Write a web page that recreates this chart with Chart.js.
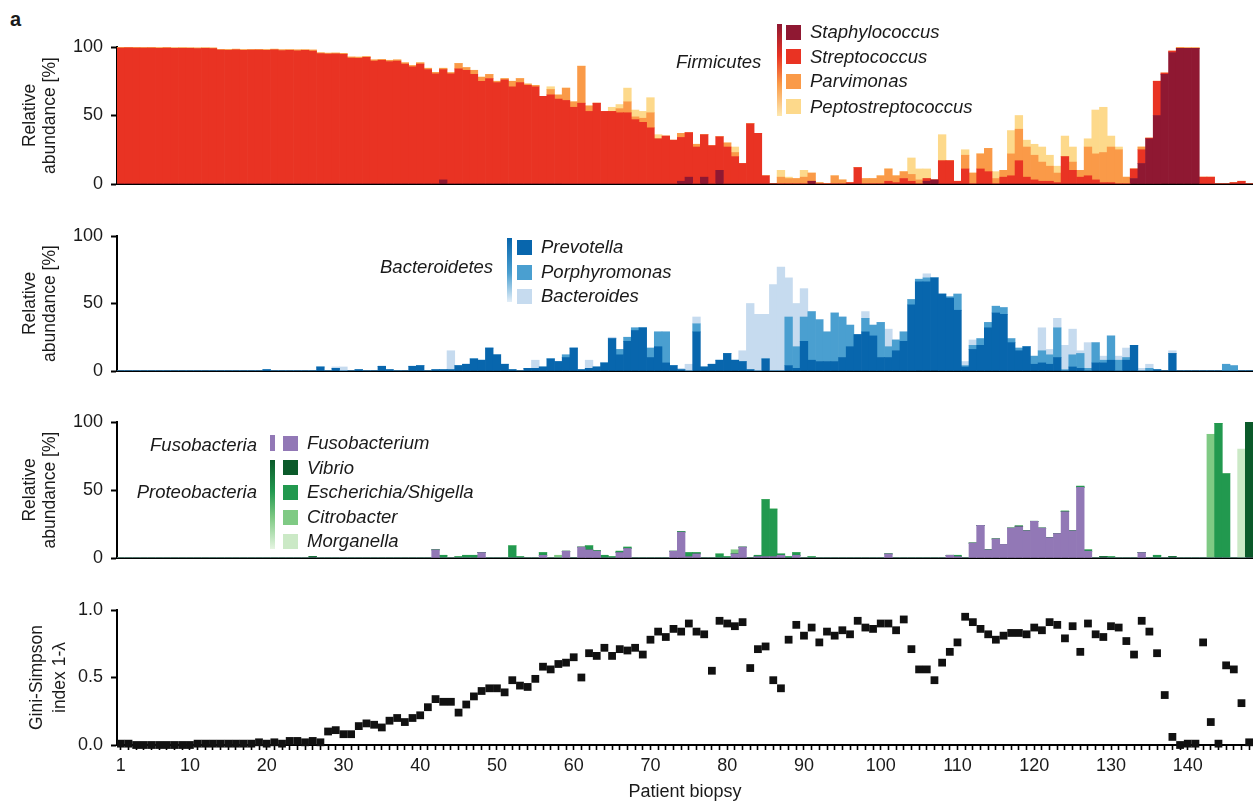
<!DOCTYPE html>
<html><head><meta charset="utf-8">
<script src="https://cdn.jsdelivr.net/npm/chart.js@4.4.1/dist/chart.umd.min.js"></script>
<style>
html,body{margin:0;padding:0;background:#fff;overflow:hidden;width:1253px;height:804px;}
body{position:relative;font-family:'Liberation Sans',Arial,Helvetica,sans-serif;color:#1a1a1a;}
.pan{position:absolute;left:0;width:1253px;}
.pan canvas{display:block;}
.lg{position:absolute;font-style:italic;font-size:18.5px;line-height:18px;white-space:nowrap;z-index:5;}
.sw{position:absolute;width:15px;height:15px;z-index:5;}
.gb{position:absolute;width:5px;z-index:5;}
</style></head><body>
<div style="position:absolute;left:10px;top:8px;font-weight:bold;font-size:20px;">a</div>
<div class="pan" style="top:30px;height:170px"><canvas id="c1"></canvas></div>
<div class="pan" style="top:220px;height:170px"><canvas id="c2"></canvas></div>
<div class="pan" style="top:405px;height:170px"><canvas id="c3"></canvas></div>
<div class="pan" style="top:595px;height:209px"><canvas id="c4"></canvas></div>

<!-- legend panel 1 -->
<div class="lg" style="left:676px;top:53px">Firmicutes</div>
<div class="gb" style="left:777px;top:24px;height:92px;background:linear-gradient(#8f1832,#e93323 35%,#fa9a48 65%,#fde8b0)"></div>
<div class="sw" style="left:786px;top:25px;background:#8f1832"></div>
<div class="sw" style="left:786px;top:49px;background:#e93323"></div>
<div class="sw" style="left:786px;top:74px;background:#fa9a48"></div>
<div class="sw" style="left:786px;top:99px;background:#fdd98b"></div>
<div class="lg" style="left:810px;top:23px">Staphylococcus</div>
<div class="lg" style="left:810px;top:48px">Streptococcus</div>
<div class="lg" style="left:810px;top:72px">Parvimonas</div>
<div class="lg" style="left:810px;top:98px">Peptostreptococcus</div>

<!-- legend panel 2 -->
<div class="lg" style="left:380px;top:258px">Bacteroidetes</div>
<div class="gb" style="left:507px;top:238px;height:64px;background:linear-gradient(#0866ad,#4a9fd0 55%,#e3eef8)"></div>
<div class="sw" style="left:517px;top:240px;background:#0866ad"></div>
<div class="sw" style="left:517px;top:265px;background:#4a9fd0"></div>
<div class="sw" style="left:517px;top:289px;background:#c6dbef"></div>
<div class="lg" style="left:541px;top:238px">Prevotella</div>
<div class="lg" style="left:541px;top:263px">Porphyromonas</div>
<div class="lg" style="left:541px;top:287px">Bacteroides</div>

<!-- legend panel 3 -->
<div class="lg" style="right:996px;top:436px">Fusobacteria</div>
<div class="lg" style="right:996px;top:483px">Proteobacteria</div>
<div class="gb" style="left:270px;top:435px;height:16px;background:#9278b6"></div>
<div class="gb" style="left:270px;top:460px;height:89px;background:linear-gradient(#0b5a2a,#22994f 35%,#7fca84 65%,#e6f5e2)"></div>
<div class="sw" style="left:283px;top:436px;background:#9278b6"></div>
<div class="sw" style="left:283px;top:460px;background:#0b5a2a"></div>
<div class="sw" style="left:283px;top:485px;background:#22994f"></div>
<div class="sw" style="left:283px;top:510px;background:#7fca84"></div>
<div class="sw" style="left:283px;top:534px;background:#cbe9c6"></div>
<div class="lg" style="left:307px;top:434px">Fusobacterium</div>
<div class="lg" style="left:307px;top:459px">Vibrio</div>
<div class="lg" style="left:307px;top:483px">Escherichia/Shigella</div>
<div class="lg" style="left:307px;top:508px">Citrobacter</div>
<div class="lg" style="left:307px;top:532px">Morganella</div>

<script>
const PATIENTS = [1,2,3,4,5,6,7,8,9,10,11,12,13,14,15,16,17,18,19,20,21,22,23,24,25,26,27,28,29,30,31,32,33,34,35,36,37,38,39,40,41,42,43,44,45,46,47,48,49,50,51,52,53,54,55,56,57,58,59,60,61,62,63,64,65,66,67,68,69,70,71,72,73,74,75,76,77,78,79,80,81,82,83,84,85,86,87,88,89,90,91,92,93,94,95,96,97,98,99,100,101,102,103,104,105,106,107,108,109,110,111,112,113,114,115,116,117,118,119,120,121,122,123,124,125,126,127,128,129,130,131,132,133,134,135,136,137,138,139,140,141,142,143,144,145,146,147,148];
const TICK_LABELS = [1,10,20,30,40,50,60,70,80,90,100,110,120,130,140];

// Firmicutes (%)
const staphylococcus = [0,0,0,0,0,0,0,0,0,0, 0,0,0,0,0,0,0,0,0,0, 0,0,0,0,0,0,0,0,0,0, 0,0,0,0,0,0,0,0,0,0, 0,0,3,0,0,0,0,0,0,0, 0,0,0,0,0,0,0,0,0,0, 0,0,0,0,0,0,0,0,0,0, 0,0,0,2,5,0,5,0,10,0, 0,0,0,0,0,0,0,0,0,0, 2,0,0,0,0,0,0,0,0,0, 0,0,0,0,0,2,3,0,0,0, 0,0,0,0,0,0,0,0,0,0, 0,0,0,0,0,0,0,0,0,0, 0,0,4,15,33,50,80,96,99,99, 99,0,0,0,0,0,0,0];
const streptococcus = [99.3,99.4,99.3,99.2,99.3,99.1,99.2,99.0,99.1,99.0, 98.9,99.0,98.8,97.8,97.6,97.9,97.5,97.7,97.8,97.5, 97.9,97.4,97.6,97.2,97.5,97.0,95.2,94.8,95.0,94.6, 92.0,91.8,92.4,89.8,90.3,89.4,89.8,87.5,85.5,87.6, 83.5,80.5,80.5,80.5,84,83,80,75,77,74, 76,71,74,72,71,64,65,62,61,56, 59,53,59,53,53,52,52,47,45,41, 33,35,32,32,32.5,27,31,28,24.5,27, 20,15,44,37,6,0,0,0,0,0, 0,0,0,0,0,1,12,0,0,0, 2,1,4,2,0,2,0,17,17,2, 11,0,11,9,0,5,6,17,5,3, 2,2,1,20,10,5,6,3,1,1, 0,0,7,10,0.5,25,1,1,0,0, 0,5,5,0,0,1,2,0];
const parvimonas = [0.4,0.4,0.4,0.4,0.4,0.4,0.4,0.4,0.4,0.4, 0.4,0.4,0.5,0.5,0.6,0.5,0.6,0.5,0.5,0.6, 0.5,0.6,0.5,0.7,0.5,0.8,0.6,0.7,0.6,0.8, 0.7,0.8,0.6,0.8,0.7,0.9,0.8,1,1,0.9, 1,1,1,0.8,4,2,3,3,3,1, 1,4,3,1,1,0,4,3,9,4, 27,4,0,0,0,3,8,2,3,11, 0,0,0,3,0,2,0,0,0,3, 3,0,0,0,0,0,5,4,4,5, 6,1,0.5,6,3,0,0,4,4,6, 9,5,5,5,3,0,0,0,0,0, 10,8,11,17,4,5,16,23,22,18, 14,11,7,0,6,5,21,19,22,26, 25,5,0,2,0,0,0,0,1,0.5, 0.5,0,0,0,0,0,0,0];
const peptostreptococcus = [0,0,0,0,0,0,0,0,0,0, 0,0,0,0,0,0,0,0,0,0, 0,0,0,0,0,0,0,0,0,0, 0,0,0,0,0,0,0,0,0,0, 0,0,0,0,0,0,0,0,0,0, 0,0,0,0,0,0,2,0,0,0, 0,0,0,0,3,3,10,5,5,11, 3,0,0,0,0,0,0,0,0,0, 4,0,0,0,0,0,5,1,0,5, 0,0,0,0,0,0,0,0,0,0, 0,0,0,12,8,7,0,19,0,0, 4,0,0,0,5,0,17,10,5,8, 11,8,5,15,11,0,6,32,33,8, 2,0,0,0,0,0,0,0,0,0, 0,0,0,0,0,0,0,0];

// Bacteroidetes (%)
const prevotella = [0,0,0,0,0,0,0,0,0,0, 0,0,0,0,0,0,0,0,0,1, 0,0,0,0,0,0,3,0,2,0, 0,1,0,0,3.5,1,0,0,3.5,4, 0,1,1,1,4,5,9,8,17,12, 5,1,0,2,2,3,9,7,10,17, 1,2,3,6,24,12,22,30,32,10, 18,6,4,1,0,29,3,5,8,13, 8,7,1,0,9,0,0,4,2,22, 8,7,7,7,10,18,27,29,26,10, 10,15,22,49,66,66,69,57,54,45, 3,16,19,32,43,42,21,15,18,5, 6,5,10,0,3,2,0,6,6,8, 0,8,19,0,0,1,0,13,0,0, 0,0,0,0,0,0,0,0];
const porphyromonas = [0,0,0,0,0,0,0,0,0,0, 0,0,0,0,0,0,0,0,0,0, 0,0,0,0,0,0,0,0,0,0, 0,0,0,0,0,0,0,0,0,0, 0,0,0,0,0,0,0,0,0,0, 0,0,0,0,0,0,0,0,2,0, 0,0,0,0,0,4,3,2,0,7, 11,23,0,0,0,6,0,0,0,0, 0,0,0,0,0,0,0,36,16,18, 36,31,22,36,30,16,0,10,8,26, 8,8,7,4,2,3,0,0,1,12, 1,3,5,4,5,5,3,2,0,6, 9,7,22,1,9,11,2,15,2,18, 8,2,0,0,2,0,0,0,0,0, 0,0,0,0,5,4,0,0];
const bacteroides = [0,0,0,0,0,0,0,0,0,0, 0,0,0,0,0,0,0,0,0,0, 0,0,0,0,0,0,0,0,1,3, 0,0,0,0,0,0,0,0,0,0, 0,0,0,14,0,0,0,0,0,0, 0,0,0,0,6,0,0,0,0,0, 0,6,0,0,1,0,0,0,0,0, 0,0,0,1,5,5,0,0,0,0, 0,8,49,42,33,64,77,29,32,21, 0,0,0,0,0,0,0,5,0,0, 13,0,0,0,0,3,0,0,0,0, 3,4,0,0,0,0,0,0,0,0, 17,4,7,18,19,2,19,0,3,0, 3,7,0,2,3,0,0,2,0,0, 0,0,0,0,0,0,0,0];

// Fusobacteria / Proteobacteria (%)
const fusobacterium = [0,0,0,0,0,0,0,0,0,0, 0,0,0,0,0,0,0,0,0,0, 0,0,0,0,0,0,0,0,0,0, 0,0,0,0,0,0,0,0,0,0, 0,6,0,0,0,0,0,4,0,0, 0,0,0,0,0,2,0,0,5,0, 8,6,5,0,0,4,7,0,0,0, 0,0,5,19,1,3,0,0,0,0, 3,8,0,1,1,1,2,0,2,0, 0,0,0,0,0,0,0,0,0,0, 3,0,0,0,0,0,0,0,2,1, 0,11,24,6,14,10,22,23,20,27, 22,15,18,34,20,52,5,0,0,0, 0,0,0,4,0,0,0,0,0,0, 0,0,0,0,0,0,0,0];
const vibrio = [0,0,0,0,0,0,0,0,0,0, 0,0,0,0,0,0,0,0,0,0, 0,0,0,0,0,1,0,0,0,0, 0,0,0,0,0,0,0,0,0,0, 0,0,0,0,0,0,0,0,0,0, 0,0,0,0,0,0,0,0,0,0, 0,0,0,0,0,0,0,0,0,0, 0,0,0,0,0,0,0,0,0,0, 0,0,0,0,0,0,0,0,0,0, 0,0,0,0,0,0,0,0,0,0, 0,0,0,0,0,0,0,0,0,0, 0,0,0,0,0,0,0,0.5,0,0, 0,0,0,0,0,0,0,0,1,0, 0,0,0,0,0,0,0,1,0,0, 0,0,0,0,0,0,0,100];
const escherichia = [0,0,0,0,0,0,0,0,0,0, 0,0,0,0,0,0,0,0,0,0, 0,0,0,0,0,0,0,0,0,0, 0,0,0,0,0,0,0,0,0,0, 0,0,2,0,1,2,2,0,0,0, 0,9,1,0,0,2,0,0,0,0, 0,3,0.5,2,1,1,1,0,0,0, 0,0,0,0.5,3,1,0,0,3,1, 0,0,0,1,42,35,1,1,2,0, 1,0,0,0,0,0,0,0,0,0, 0,0,0,0,0,0,0,0,0,1, 0,0,0,0,0,0,0,0,0,0, 0,0,0,0.5,0,0.8,1,0,0,1, 0,0,0,0,0,2,0,0,0,0, 0,0,0,99,62,0,0,0];
const citrobacter = [0,0,0,0,0,0,0,0,0,0, 0,0,0,0,0,0,0,0,0,0, 0,0,0,0,0,0,0,0,0,0, 0,0,0,0,0,0,0,0,0,0, 0,0,0,0,0,0,0,0,0,0, 0,0,0,0,0,0,0,2,0,0, 0,0,0,0,0,0,0,0,0,0, 0,0,0,0,0,0,0,0,0,0, 3,0,0,0,0,0,0,0,0,0, 0,0,0,0,0,0,0,0,0,0, 0,0,0,0,0,0,0,0,0,0, 0,0,0,0,0,0,0,0,0,0, 0,0,0,0,0,0,0,0,0,0, 0,0,0,0,0,0,0,0,0,0, 0,0,91,0,0,0,0,0];
const morganella = [0,0,0,0,0,0,0,0,0,0, 0,0,0,0,0,0,0,0,0,0, 0,0,0,0,0,0,0,0,0,0, 0,0,0,0,0,0,0,0,0,0, 0,0,0,0,0,0,0,0,0,0, 0,0,0,0,0,0,0,0,0,0, 0,0,0,0,0,0,0,0,0,0, 0,0,0,0,0,0,0,0,0,0, 0,0,0,0,0,0,0,0,0,0, 0,0,0,0,0,0,0,0,0,0, 0,0,0,0,0,0,0,0,0,0, 0,0,0,0,0,0,0,0,0,0, 0,0,0,0,0,0,0,0,0,0, 0,0,0,0,0,0,0,0,0,0, 0,0,0,0,0,0,80,0];

// Gini-Simpson index 1-lambda
const giniSimpson = [0.01,0.01,0.00,0.00,0.00,0.00,0.00,0.00,0.00,0.00, 0.01,0.01,0.01,0.01,0.01,0.01,0.01,0.01,0.02,0.01, 0.02,0.01,0.03,0.03,0.02,0.03,0.02,0.10,0.11,0.08, 0.08,0.14,0.16,0.15,0.13,0.18,0.20,0.17,0.20,0.22, 0.28,0.34,0.32,0.32,0.24,0.30,0.36,0.40,0.42,0.42, 0.39,0.48,0.44,0.43,0.49,0.58,0.56,0.60,0.61,0.65, 0.50,0.68,0.66,0.72,0.66,0.71,0.70,0.72,0.67,0.78, 0.84,0.80,0.86,0.84,0.90,0.84,0.82,0.55,0.92,0.90, 0.88,0.91,0.57,0.71,0.73,0.48,0.42,0.78,0.89,0.81, 0.87,0.76,0.84,0.81,0.85,0.82,0.92,0.87,0.86,0.90, 0.90,0.85,0.93,0.71,0.56,0.56,0.48,0.61,0.69,0.76, 0.95,0.91,0.86,0.82,0.78,0.81,0.83,0.83,0.82,0.87, 0.85,0.91,0.89,0.79,0.88,0.69,0.90,0.82,0.80,0.88, 0.87,0.77,0.67,0.92,0.84,0.68,0.37,0.06,0.00,0.01, 0.01,0.76,0.17,0.01,0.59,0.56,0.31,0.02];

const FF = "'Liberation Sans', Arial, Helvetica, sans-serif";
const TXT = '#1a1a1a';
Chart.defaults.font.family = FF;
Chart.defaults.color = TXT;

function xHidden(){
  return {type:'category', stacked:true, offset:true,
    afterFit(s){ s.height = 0; s.paddingLeft = 0; s.paddingRight = 0; },
    border:{display:true,color:'#000',width:2},
    grid:{display:false}, ticks:{display:false}};
}
function yAxis(max, step, title, lh, tpad, fmt, stacked){
  return {stacked, min:0, max,
    afterFit(s){ s.width = 117; s.paddingTop = 0; s.paddingBottom = 0; },
    border:{display:true,color:'#000',width:2},
    grid:{display:true,drawOnChartArea:false,drawTicks:true,tickLength:6,tickColor:'#000',tickWidth:2},
    ticks:{stepSize:step, color:TXT, font:{size:18,family:FF}, padding:8, callback:fmt},
    title:{display:true, text:title, color:TXT, font:{size:17.5,family:FF,lineHeight:lh}, padding:{top:tpad,bottom:0}}};
}
function barChart(id, sets, padTop, padBottom){
  new Chart(document.getElementById(id), {
    type:'bar',
    data:{labels:PATIENTS, datasets:sets.map(s=>({label:s[0], data:s[1], backgroundColor:s[2], borderWidth:0, barPercentage:1, categoryPercentage:1}))},
    options:{responsive:true, maintainAspectRatio:false, animation:false, events:[],
      layout:{autoPadding:false, padding:{top:padTop,bottom:padBottom,left:0,right:0}},
      plugins:{legend:{display:false}, tooltip:{enabled:false}},
      scales:{x:xHidden(), y:yAxis(100,50,['Relative','abundance [%]'],1.1,21,v=>v,true)}}
  });
}
barChart('c1', [
  ['Staphylococcus', staphylococcus, '#8f1832'],
  ['Streptococcus', streptococcus, '#e93323'],
  ['Parvimonas', parvimonas, '#fa9a48'],
  ['Peptostreptococcus', peptostreptococcus, '#fdd98b']
], 17, 16);
barChart('c2', [
  ['Prevotella', prevotella, '#0866ad'],
  ['Porphyromonas', porphyromonas, '#4a9fd0'],
  ['Bacteroides', bacteroides, '#c6dbef']
], 16, 19);
barChart('c3', [
  ['Fusobacterium', fusobacterium, '#9278b6'],
  ['Vibrio', vibrio, '#0b5a2a'],
  ['Escherichia/Shigella', escherichia, '#22994f'],
  ['Citrobacter', citrobacter, '#7fca84'],
  ['Morganella', morganella, '#cbe9c6']
], 17, 17);

new Chart(document.getElementById('c4'), {
  type:'line',
  data:{labels:PATIENTS, datasets:[{label:'Gini-Simpson', data:giniSimpson, showLine:false, pointStyle:'rect', pointRadius:5.5, pointBackgroundColor:'#111', pointBorderWidth:0, clip:false}]},
  options:{responsive:true, maintainAspectRatio:false, animation:false, events:[],
    layout:{autoPadding:false, padding:{top:15,bottom:1,left:0,right:0}},
    plugins:{legend:{display:false}, tooltip:{enabled:false}},
    scales:{
      x:{type:'category', offset:true,
        afterFit(s){ s.height = 58; s.paddingLeft = 0; s.paddingRight = 0; },
        border:{display:true,color:'#000',width:2},
        grid:{display:true, offset:false, drawOnChartArea:false, drawTicks:true, tickLength:5, tickColor:'#000', tickWidth:1.6},
        ticks:{autoSkip:false, maxRotation:0, minRotation:0, color:TXT, font:{size:18,family:FF}, padding:5,
          callback:function(v,i){ const l = PATIENTS[i]; return TICK_LABELS.includes(l) ? String(l) : ''; }},
        title:{display:true, text:'Patient biopsy', color:TXT, font:{size:18,family:FF}, padding:{top:0,bottom:0}}},
      y:yAxis(1,0.5,['Gini-Simpson','index 1-λ'],1.3,26,v=>Number(v).toFixed(1),false)
    }}
});
</script>
</body></html>
